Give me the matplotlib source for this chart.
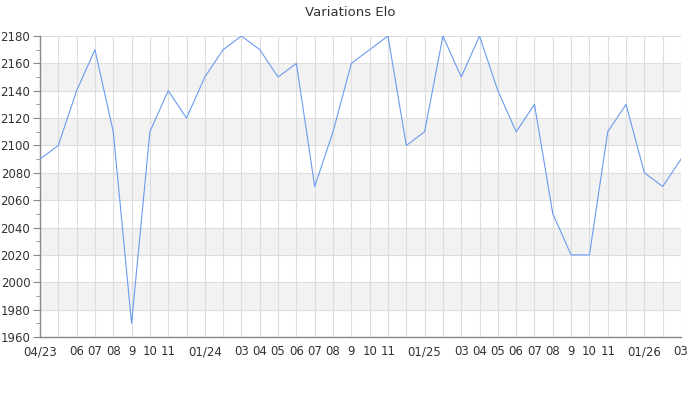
import matplotlib
matplotlib.use('Agg')
import matplotlib.pyplot as plt
from matplotlib.ticker import MultipleLocator

# monthly elo, 04/23 .. 03/26
months = ['04/23', '05', '06', '07', '08', '9', '10', '11', '12',
          '01/24', '02', '03', '04', '05', '06', '07', '08', '9', '10', '11', '12',
          '01/25', '02', '03', '04', '05', '06', '07', '08', '9', '10', '11', '12',
          '01/26', '02', '03']
elo = [2090, 2100, 2140, 2170, 2110, 1970, 2110, 2140, 2120, 2150, 2170, 2180,
       2170, 2150, 2160, 2070, 2110, 2160, 2170, 2180, 2100, 2110, 2180, 2150,
       2180, 2140, 2110, 2130, 2050, 2020, 2020, 2110, 2130, 2080, 2070, 2090]
# labels the original chart skips (they would overlap the year labels)
hidden_idx = [1, 8, 10, 20, 22, 32, 34]

fig = plt.figure(figsize=(7, 4), dpi=100)
ax = fig.add_axes([40/700, 1-337/400, 641/700, 301/400])

x = list(range(len(elo)))
ymin, ymax = 1960, 2180

# alternating bands
for lo in range(1980, 2180, 40):
    ax.axhspan(lo, lo + 20, color='#f2f2f2', zorder=0, lw=0)

ax.plot(x, elo, color='#6a9bf0', lw=0.8, zorder=3)

ax.set_xlim(0, len(elo) - 1)
ax.set_ylim(ymin, ymax)
ax.yaxis.set_major_locator(MultipleLocator(20))
ax.yaxis.set_minor_locator(MultipleLocator(10))
ax.set_xticks(x)
labels = ['' if i in hidden_idx else m for i, m in enumerate(months)]
ax.set_xticklabels(labels)

ax.grid(True, which='major', color='#dddddd', lw=0.8, zorder=1)
ax.set_axisbelow(True)

for s in ['top', 'right']:
    ax.spines[s].set_visible(False)
for s in ['left', 'bottom']:
    ax.spines[s].set_color('#888888')
    ax.spines[s].set_linewidth(1)

ax.tick_params(axis='x', length=0, pad=6, labelsize=8.5, labelcolor='#333333')
ax.tick_params(axis='y', which='major', length=5, color='#888888', labelsize=8.5, labelcolor='#333333', pad=2)
ax.tick_params(axis='y', which='minor', length=3, color='#888888')

fig.text(0.5, 1 - 12/400, 'Variations Elo', ha='center', va='center', fontsize=9.5, color='#333333')

fig.savefig('out.png', dpi=100)
